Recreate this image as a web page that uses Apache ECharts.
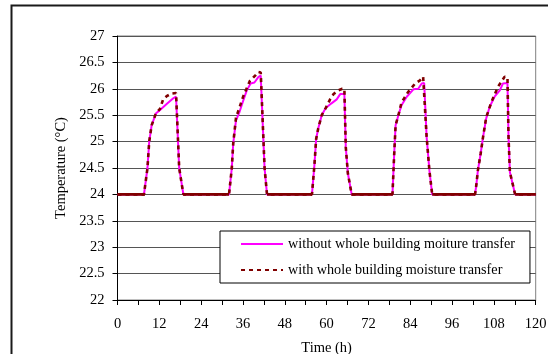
<!DOCTYPE html>
<html>
<head>
<meta charset="utf-8">
<script src="https://cdn.jsdelivr.net/npm/echarts@6/dist/echarts.min.js"></script>
<style>html,body{margin:0;padding:0;background:#fff;}#c{width:548px;height:354px;}</style>
</head>
<body>
<div id="c"></div>
<script>
// Time (h) and temperature (°C) for the case without whole building moisture transfer
var hoursWithout = [0, 7.6, 7.9, 8.6, 9.1, 9.8, 11.0, 12.2, 14.1, 16.0, 16.8, 17.7, 18.9,
  32.0, 32.8, 33.2, 34.0, 35.0, 36.1, 37.1, 38.2, 39.3, 40.4, 41.1, 42.2, 42.9,
  55.8, 56.5, 57.0, 57.6, 58.6, 59.7, 61.3, 62.9, 63.9, 65.1, 65.5, 66.1, 67.2,
  78.9, 79.4, 79.8, 80.6, 81.5, 83.0, 84.9, 86.3, 87.3, 88.0, 88.7, 89.5, 90.3,
  102.6, 103.0, 103.4, 104.2, 104.9, 105.8, 106.8, 108.2, 109.7, 110.6, 111.9, 112.2, 112.6, 114.1, 120];
var tempWithout = [24, 24, 24.0, 24.5, 25.0, 25.31, 25.53, 25.6, 25.71, 25.82, 25.85, 24.5, 24,
  24, 24.5, 24.96, 25.4, 25.56, 25.78, 25.97, 26.1, 26.12, 26.22, 26.25, 24.5, 24,
  24, 24.55, 25.05, 25.25, 25.5, 25.63, 25.72, 25.8, 25.9, 25.9, 24.9, 24.4, 24,
  24, 24.77, 25.31, 25.5, 25.69, 25.85, 25.99, 26.0, 26.1, 26.11, 25.09, 24.45, 24,
  24, 24.2, 24.45, 24.77, 25.09, 25.44, 25.66, 25.85, 25.97, 26.1, 26.11, 25.09, 24.42, 24, 24];

// Time (h) and temperature (°C) for the case with whole building moisture transfer
var hoursWith = [0, 7.6, 7.9, 8.6, 9.1, 9.8, 11.0, 12.2, 13.1, 14.1, 15.5, 16.8, 17.7, 18.9,
  32.0, 32.8, 33.2, 34.0, 36.1, 38.0, 39.5, 40.4, 41.1, 42.2, 42.9,
  55.8, 56.5, 57.0, 57.6, 58.6, 59.7, 61.0, 62.0, 63.4, 64.5, 65.1, 65.5, 66.1, 67.2,
  78.9, 79.4, 79.8, 80.6, 81.5, 83.4, 85.4, 86.8, 87.7, 88.0, 88.7, 89.5, 90.3,
  102.6, 103.0, 103.4, 104.2, 104.9, 105.8, 107.3, 109.2, 111.1, 111.9, 112.2, 112.6, 114.1, 120];
var tempWith = [24, 24, 24.0, 24.5, 25.0, 25.31, 25.53, 25.62, 25.8, 25.86, 25.91, 25.92, 24.5, 24,
  24, 24.5, 24.96, 25.45, 25.86, 26.15, 26.25, 26.32, 26.31, 24.5, 24,
  24, 24.55, 25.05, 25.25, 25.5, 25.63, 25.8, 25.9, 25.97, 26.0, 26.0, 24.9, 24.4, 24,
  24, 24.77, 25.31, 25.5, 25.74, 25.94, 26.1, 26.16, 26.23, 26.22, 25.09, 24.45, 24,
  24, 24.2, 24.45, 24.77, 25.09, 25.46, 25.75, 26.04, 26.23, 26.22, 25.09, 24.42, 24, 24];

var seriesNames = ['without whole building moiture transfer', 'with whole building moisture transfer'];
var yTicks = { min: 22, max: 27, step: 0.5 };
var xTicks = { min: 0, max: 120, step: 6, labelStep: 12 };

function pairs(xs, ys) { return xs.map(function (x, i) { return [x, ys[i]]; }); }
var baseline = hoursWith.map(function (x, i) { return [x, tempWith[i] === 24 ? 24 : null]; });

var font = 'Liberation Serif';
var chart = echarts.init(document.getElementById('c'), null, { renderer: 'canvas' });
chart.setOption({
  backgroundColor: '#fff',
  animation: false,
  textStyle: { fontFamily: font, color: '#000' },
  graphic: [{
    type: 'rect', shape: { x: 11.5, y: 5.5, width: 600, height: 400 },
    style: { fill: 'none', stroke: '#1a1a1a', lineWidth: 2 }, z: 100
  }],
  grid: { left: 117.5, right: 12.3, top: 36, bottom: 54, containLabel: false, outerBoundsMode: 'none',
    show: true, borderColor: '#808080', borderWidth: 1 },
  legend: {
    orient: 'vertical', left: 220, top: 231,
    padding: [6, 15, 6, 20], itemGap: 12, itemWidth: 42, itemHeight: 14,
    backgroundColor: '#fff', borderColor: '#000', borderWidth: 1,
    itemStyle: { opacity: 0 },
    textStyle: { fontFamily: font, fontSize: 14.2, color: '#000' },
    data: seriesNames
  },
  xAxis: {
    type: 'value', min: xTicks.min, max: xTicks.max, interval: xTicks.step,
    name: 'Time (h)', nameLocation: 'middle', nameGap: 41,
    nameTextStyle: { fontFamily: font, fontSize: 14.5, color: '#000' },
    axisLine: { lineStyle: { color: '#000', width: 1 } },
    axisTick: { length: 5, lineStyle: { color: '#000' } },
    axisLabel: { margin: 17, fontFamily: font, fontSize: 14.5, color: '#000',
      formatter: function (v) { return v % xTicks.labelStep === 0 ? String(v) : ''; } },
    splitLine: { show: false }
  },
  yAxis: {
    type: 'value', min: yTicks.min, max: yTicks.max, interval: yTicks.step,
    name: 'Temperature (°C)', nameLocation: 'middle', nameGap: 46.5,
    nameTextStyle: { fontFamily: font, fontSize: 14.5, color: '#000' },
    axisLine: { show: true, lineStyle: { color: '#000', width: 1 } },
    axisTick: { show: true, length: 5, lineStyle: { color: '#000' } },
    axisLabel: { margin: 13, fontFamily: font, fontSize: 14.5, color: '#000' },
    splitLine: { lineStyle: { color: '#555', width: 1 } }
  },
  series: [{
    name: seriesNames[0], type: 'line', symbol: 'none', data: pairs(hoursWithout, tempWithout),
    lineStyle: { color: '#ff00ff', width: 2 }, itemStyle: { color: '#ff00ff' }, z: 3
  }, {
    name: seriesNames[1], type: 'line', symbol: 'none', data: pairs(hoursWith, tempWith),
    lineStyle: { color: '#800000', width: 2.6, type: [4, 4] }, itemStyle: { color: '#800000' }, z: 4
  }, {
    name: 'baseline', type: 'line', symbol: 'none', data: baseline, connectNulls: false,
    lineStyle: { color: '#800000', width: 2.6 }, z: 5
  }]
});
</script>
</body>
</html>
